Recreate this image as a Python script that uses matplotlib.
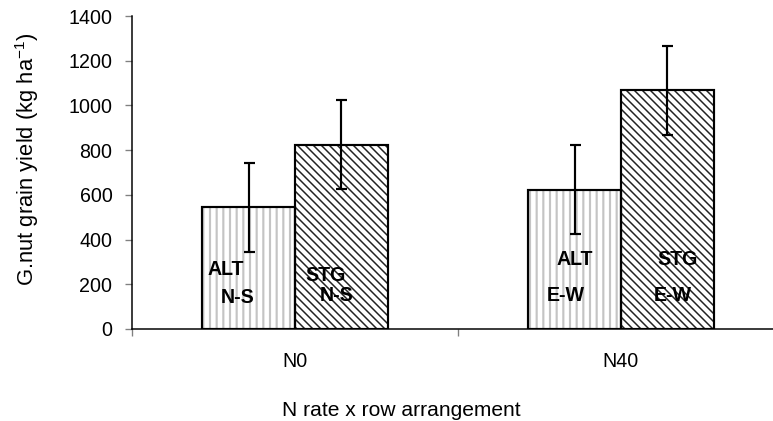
import matplotlib
matplotlib.use("Agg")
import matplotlib.pyplot as plt
import numpy as np

# ---- data ----
categories = ["N0", "N40"]
alt_values = [544, 623]
stg_values = [825, 1068]
alt_err = [200, 199]
stg_err = [200, 200]
alt_labels = [("ALT", "N-S"), ("ALT", "E-W")]
stg_labels = [("STG", "N-S"), ("STG", "E-W")]
y_ticks = [0, 200, 400, 600, 800, 1000, 1200, 1400]

plt.rcParams["font.family"] = ["Liberation Sans", "DejaVu Sans"]
plt.rcParams["mathtext.fontset"] = "custom"
plt.rcParams["mathtext.rm"] = "Liberation Sans"
plt.rcParams["mathtext.it"] = "Liberation Sans:italic"
plt.rcParams["mathtext.bf"] = "Liberation Sans:bold"

DPI = 120
W, H = 773, 421
fig = plt.figure(figsize=(W / DPI, H / DPI), dpi=DPI)
ax = fig.add_axes([132 / W, 1 - 329 / H, 652 / W, 313 / H])

x = np.arange(len(categories)) + 0.5
w = 0.285
x_alt = x - w / 2
x_stg = x + w / 2

# hatched fills
with plt.rc_context({"hatch.linewidth": 1.3}):
    ax.bar(x_alt, alt_values, w, color="white", edgecolor="#c4c4c4",
           hatch="|||", linewidth=0, zorder=2)
with plt.rc_context({"hatch.linewidth": 0.9}):
    ax.bar(x_stg, stg_values, w, color="white", edgecolor="#222222",
           hatch="\\" * 5, linewidth=0, zorder=2)
# outlines
ax.bar(x_alt, alt_values, w, fill=False, edgecolor="black", linewidth=1.3, zorder=3)
ax.bar(x_stg, stg_values, w, fill=False, edgecolor="black", linewidth=1.3, zorder=3)

# error bars
ax.errorbar(x_alt, alt_values, yerr=alt_err, fmt="none", ecolor="black",
            elinewidth=1.3, capsize=3.3, capthick=1.3, zorder=4)
ax.errorbar(x_stg, stg_values, yerr=stg_err, fmt="none", ecolor="black",
            elinewidth=1.3, capsize=3.3, capthick=1.3, zorder=4)

# in-bar labels (offsets relative to bar centre, in data units)
alt_off = [((-0.07, 264), (-0.034, 143)), ((0.0, 313), (-0.026, 152))]
stg_off = [((-0.05, 241), (-0.015, 152)), ((0.03, 313), (0.017, 152))]
for i in range(len(categories)):
    for (txt, (dx, yy)) in zip(alt_labels[i], alt_off[i]):
        ax.text(x_alt[i] + dx, yy, txt, ha="center", va="center",
                fontsize=11.8, fontweight="bold", zorder=5)
    for (txt, (dx, yy)) in zip(stg_labels[i], stg_off[i]):
        ax.text(x_stg[i] + dx, yy, txt, ha="center", va="center",
                fontsize=11.8, fontweight="bold", zorder=5)

ax.set_xlim(0, 2)
ax.set_ylim(0, 1400)
ax.set_yticks(y_ticks)
ax.set_yticklabels([str(v) for v in y_ticks], fontsize=11.8)
ax.set_xticks(x)
ax.set_xticklabels(categories, fontsize=11.8)
ax.tick_params(axis="x", length=0, pad=14)
ax.tick_params(axis="y", direction="out", length=4.2, width=0.8, color="#808080", pad=7.5)
ax.set_xticks([0, 1, 2], minor=True)
ax.tick_params(axis="x", which="minor", length=4, width=0.8, color="#808080")

for s in ["top", "right"]:
    ax.spines[s].set_visible(False)
for s in ["left", "bottom"]:
    ax.spines[s].set_linewidth(0.9)
    ax.spines[s].set_color("black")

fig.text(401 / W, 1 - 410 / H, "N rate x row arrangement", fontsize=12.6,
         ha="center", va="center")
fig.text(27 / W, 1 - 159 / H, r"G.nut grain yield (kg ha$^{\mathregular{-1}}$)",
         fontsize=13.2, rotation=90, ha="center", va="center")

fig.savefig("out.png", dpi=DPI)
